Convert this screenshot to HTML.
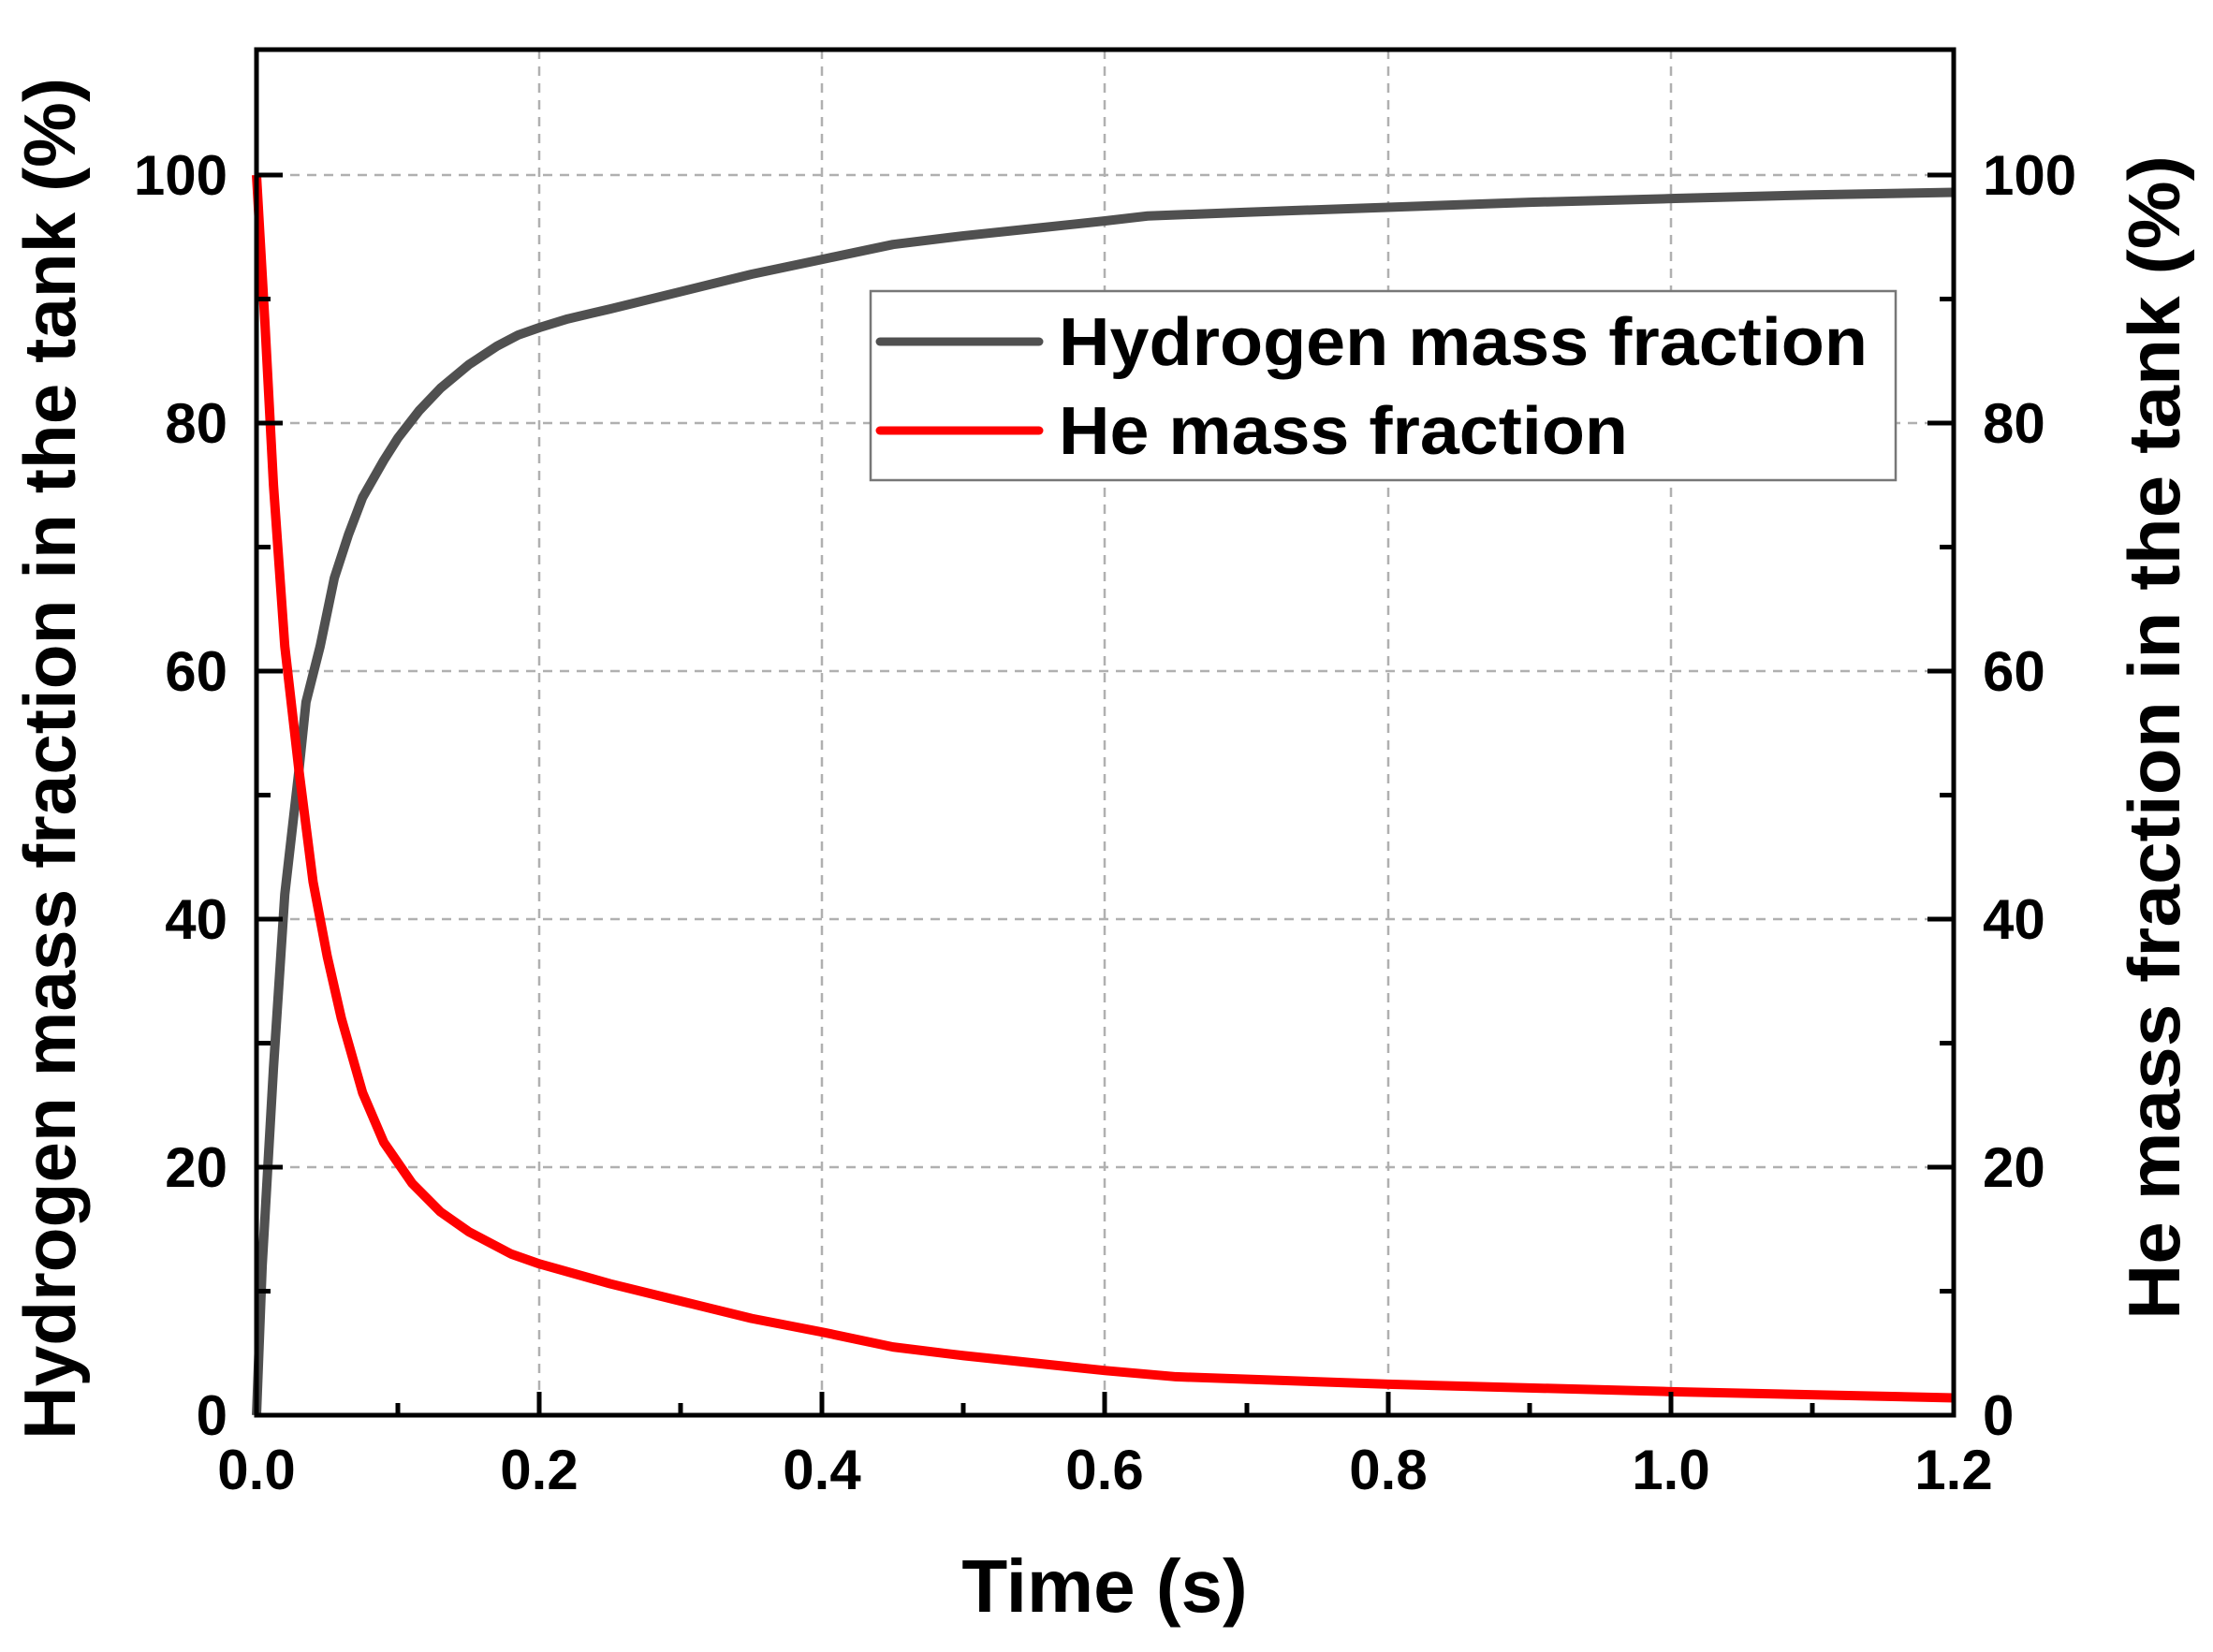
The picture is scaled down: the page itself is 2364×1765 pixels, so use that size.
<!DOCTYPE html>
<html><head><meta charset="utf-8"><style>html,body{margin:0;padding:0;background:#fff}</style></head>
<body>
<svg width="2364" height="1760" viewBox="0 0 2364 1760" xmlns="http://www.w3.org/2000/svg" font-family="Liberation Sans, Arial, sans-serif" font-weight="bold">
<rect width="2364" height="1760" fill="#fff"/>
<g stroke="#b0b0b0" stroke-width="2.5" stroke-dasharray="10,8">
<line x1="576" y1="53" x2="576" y2="1512"/>
<line x1="878" y1="53" x2="878" y2="1512"/>
<line x1="1180" y1="53" x2="1180" y2="1512"/>
<line x1="1483" y1="53" x2="1483" y2="1512"/>
<line x1="1785" y1="53" x2="1785" y2="1512"/>
<line x1="274" y1="187" x2="2087" y2="187"/>
<line x1="274" y1="452" x2="2087" y2="452"/>
<line x1="274" y1="717" x2="2087" y2="717"/>
<line x1="274" y1="982" x2="2087" y2="982"/>
<line x1="274" y1="1247" x2="2087" y2="1247"/>
</g>
<g transform="translate(274,1512) scale(1511,-13.25)" fill="none" stroke-linejoin="round">
<polyline vector-effect="non-scaling-stroke" stroke="#505050" stroke-width="10" points="0,0 0.004,12 0.012,28 0.02,42 0.03,52 0.035,57.5 0.045,62 0.055,67.5 0.065,71 0.075,74 0.09,77 0.1,78.8 0.115,81 0.13,82.8 0.15,84.7 0.17,86.2 0.185,87.1 0.2,87.7 0.22,88.4 0.25,89.2 0.3,90.6 0.35,92 0.4,93.2 0.45,94.4 0.5,95.1 0.55,95.7 0.6,96.3 0.63,96.7 0.7,97.0 0.8,97.4 0.9,97.8 1.0,98.1 1.1,98.4 1.2,98.6"/>
<polyline vector-effect="non-scaling-stroke" stroke="#ff0000" stroke-width="10" points="0,100 0.006,88 0.012,75 0.02,62 0.03,52 0.04,43 0.05,37 0.06,32 0.075,26 0.09,22 0.11,18.7 0.13,16.4 0.15,14.8 0.18,13 0.2,12.2 0.25,10.6 0.3,9.2 0.35,7.8 0.4,6.7 0.45,5.5 0.5,4.8 0.6,3.6 0.65,3.1 0.8,2.5 1.0,1.9 1.2,1.4"/>
</g>
<g stroke="#000" stroke-width="5">
<line x1="576" y1="1512" x2="576" y2="1487"/><line x1="878" y1="1512" x2="878" y2="1487"/><line x1="1180" y1="1512" x2="1180" y2="1487"/><line x1="1483" y1="1512" x2="1483" y2="1487"/><line x1="1785" y1="1512" x2="1785" y2="1487"/>
<line x1="425" y1="1512" x2="425" y2="1499"/><line x1="727" y1="1512" x2="727" y2="1499"/><line x1="1029" y1="1512" x2="1029" y2="1499"/><line x1="1332" y1="1512" x2="1332" y2="1499"/><line x1="1634" y1="1512" x2="1634" y2="1499"/><line x1="1936" y1="1512" x2="1936" y2="1499"/>
<line x1="274" y1="187" x2="302" y2="187"/><line x1="274" y1="452" x2="302" y2="452"/><line x1="274" y1="717" x2="302" y2="717"/><line x1="274" y1="982" x2="302" y2="982"/><line x1="274" y1="1247" x2="302" y2="1247"/>
<line x1="274" y1="319.5" x2="289" y2="319.5"/><line x1="274" y1="584.5" x2="289" y2="584.5"/><line x1="274" y1="849.5" x2="289" y2="849.5"/><line x1="274" y1="1114.5" x2="289" y2="1114.5"/><line x1="274" y1="1379.5" x2="289" y2="1379.5"/>
<line x1="2087" y1="187" x2="2059" y2="187"/><line x1="2087" y1="452" x2="2059" y2="452"/><line x1="2087" y1="717" x2="2059" y2="717"/><line x1="2087" y1="982" x2="2059" y2="982"/><line x1="2087" y1="1247" x2="2059" y2="1247"/>
<line x1="2087" y1="319.5" x2="2072" y2="319.5"/><line x1="2087" y1="584.5" x2="2072" y2="584.5"/><line x1="2087" y1="849.5" x2="2072" y2="849.5"/><line x1="2087" y1="1114.5" x2="2072" y2="1114.5"/><line x1="2087" y1="1379.5" x2="2072" y2="1379.5"/>
</g>
<rect x="274" y="53" width="1813" height="1459" fill="none" stroke="#000" stroke-width="5"/>
<rect x="930" y="311" width="1095" height="202" fill="#fff" stroke="#777" stroke-width="2.5"/>
<line x1="940" y1="365" x2="1110" y2="365" stroke="#505050" stroke-width="9" stroke-linecap="round"/>
<line x1="940" y1="460" x2="1110" y2="460" stroke="#ff0000" stroke-width="9" stroke-linecap="round"/>
<text x="1131" y="390" font-size="72" textLength="864" lengthAdjust="spacingAndGlyphs">Hydrogen mass fraction</text>
<text x="1131" y="485" font-size="72" textLength="608" lengthAdjust="spacingAndGlyphs">He mass fraction</text>
<g font-size="60" text-anchor="end">
<text x="243" y="208">100</text><text x="243" y="473">80</text><text x="243" y="738">60</text><text x="243" y="1003">40</text><text x="243" y="1268">20</text><text x="243" y="1533">0</text>
</g>
<g font-size="60" text-anchor="start">
<text x="2118" y="208">100</text><text x="2118" y="473">80</text><text x="2118" y="738">60</text><text x="2118" y="1003">40</text><text x="2118" y="1268">20</text><text x="2118" y="1533">0</text>
</g>
<g font-size="60" text-anchor="middle">
<text x="274" y="1591">0.0</text><text x="576" y="1591">0.2</text><text x="878" y="1591">0.4</text><text x="1180" y="1591">0.6</text><text x="1483" y="1591">0.8</text><text x="1785" y="1591">1.0</text><text x="2087" y="1591">1.2</text>
</g>
<text x="1180" y="1722" font-size="80" text-anchor="middle">Time (s)</text>
<text transform="translate(80,1538) rotate(-90)" font-size="78" textLength="1455" lengthAdjust="spacingAndGlyphs">Hydrogen mass fraction in the tank (%)</text>
<text transform="translate(2328,1410) rotate(-90)" font-size="78" textLength="1244" lengthAdjust="spacingAndGlyphs">He mass fraction in the tank (%)</text>
</svg>
</body></html>
